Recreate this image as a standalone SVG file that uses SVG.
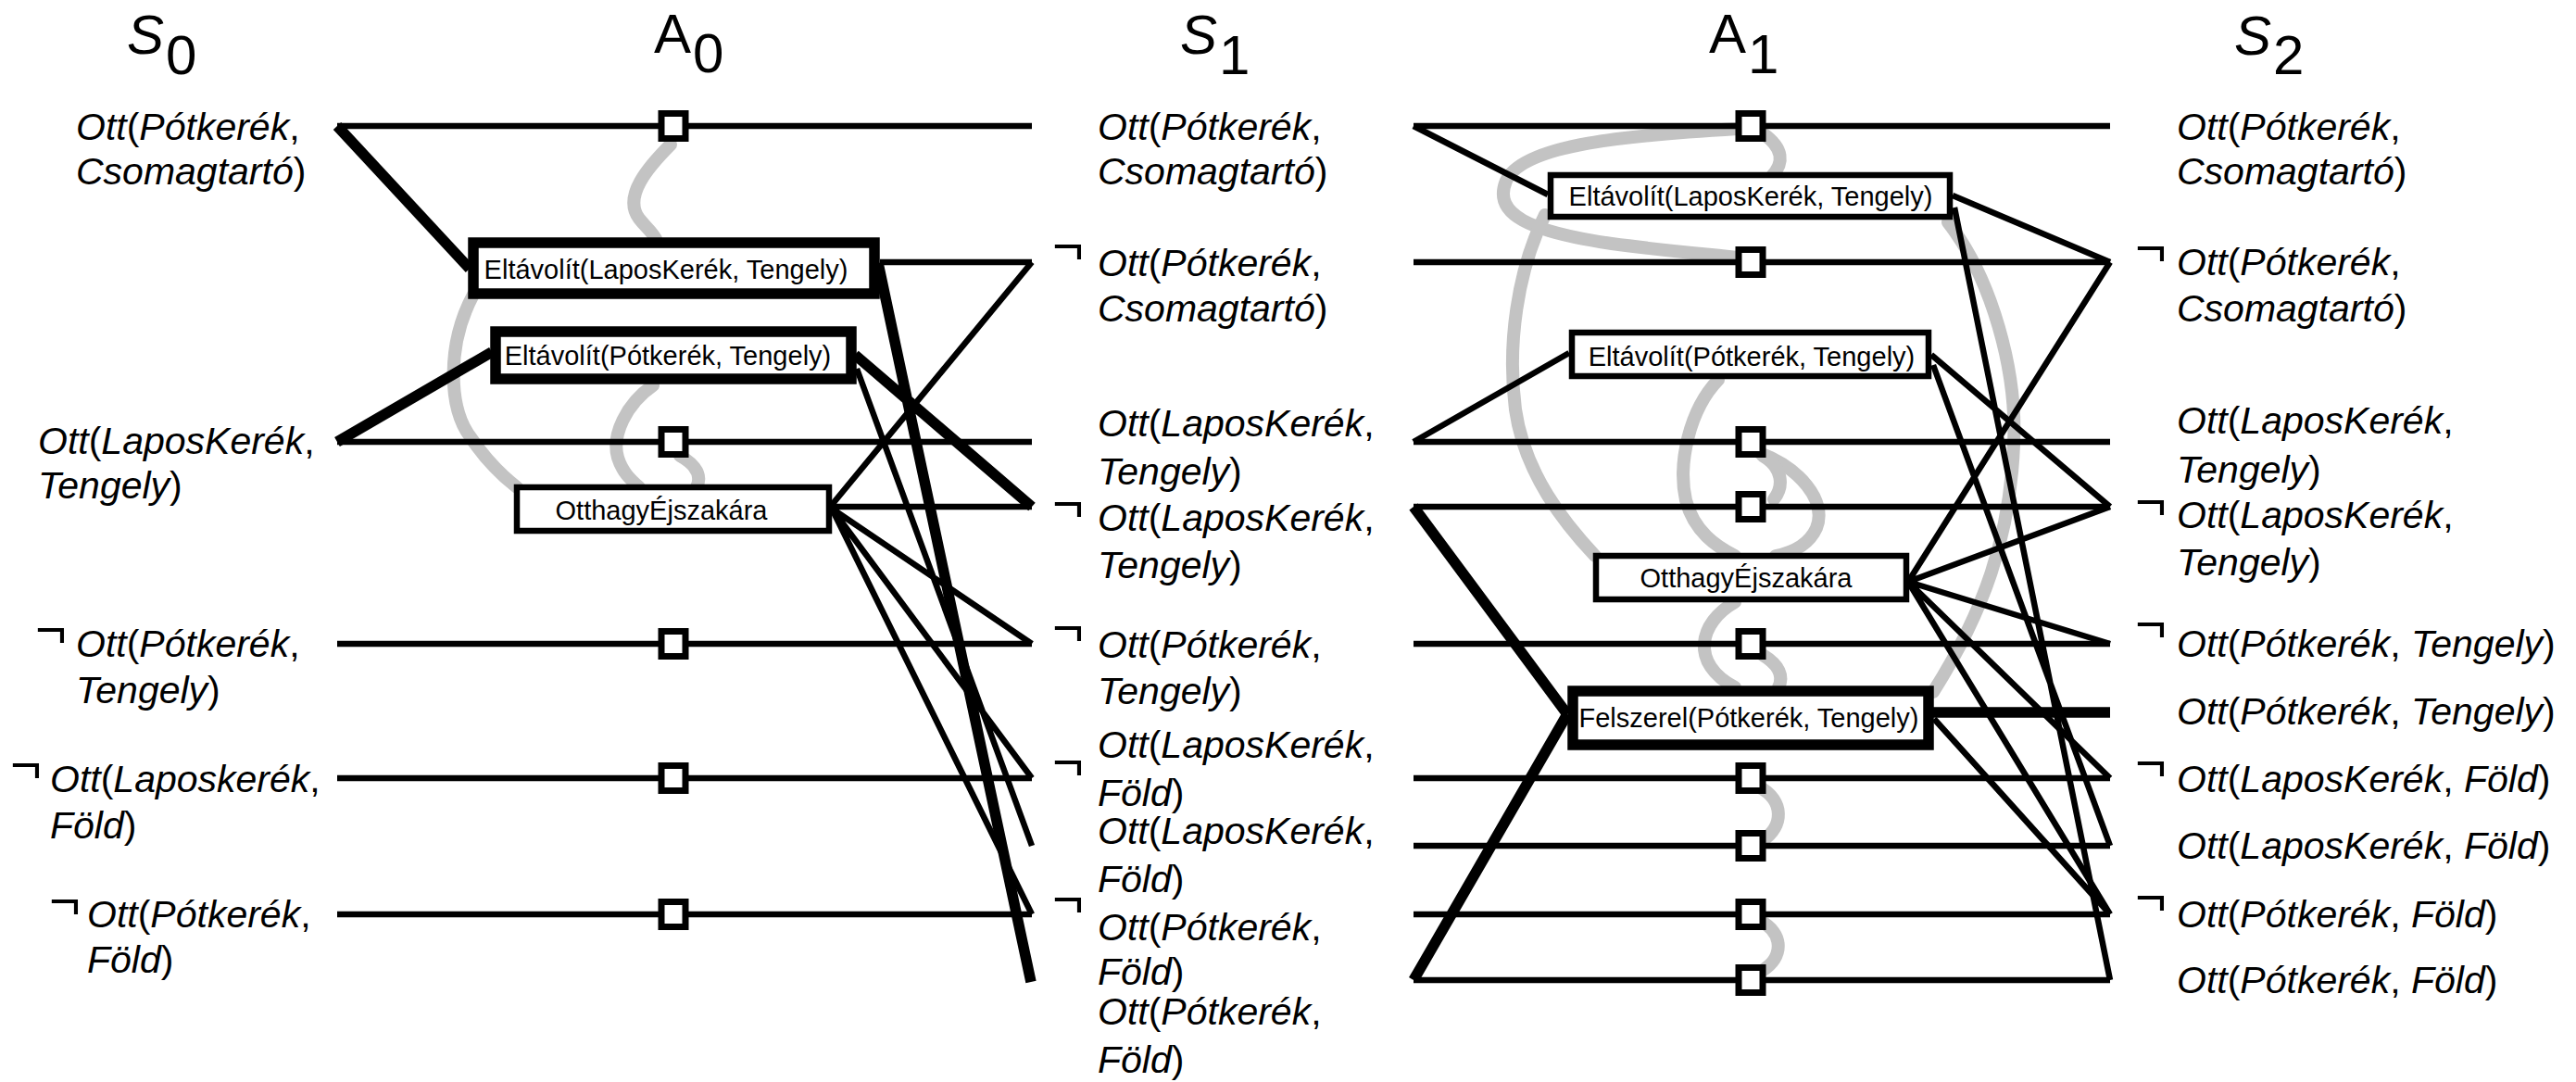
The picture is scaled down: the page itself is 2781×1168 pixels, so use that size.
<svg xmlns="http://www.w3.org/2000/svg" width="2781" height="1168" viewBox="0 0 2781 1168">
<style>
text{font-family:"Liberation Sans",Arial,Helvetica,sans-serif;fill:#000}
.t{font-size:60px}
.ti{font-size:60px;font-style:italic}
.up{font-style:normal}
.lab{font-size:41px}
.i{font-style:italic}
.neg{font-size:58px}
.act{font-size:29px;text-anchor:middle}
.ln{stroke:#000;stroke-width:6.5;fill:none}
.thk{stroke:#000;stroke-width:11.5;fill:none}
.mx{stroke:#c3c3c3;stroke-width:14;fill:none;stroke-linecap:round}
.box{fill:#fff;stroke:#000;stroke-width:6.5}
.boxk{fill:#fff;stroke:#000;stroke-width:11.5}
.sq{fill:#fff;stroke:#000;stroke-width:7}
</style>
<rect width="2781" height="1168" fill="#fff"/>
<g id="titles">
<text class="ti" x="137" y="58">S<tspan class="up" dx="2" dy="22">0</tspan></text>
<text class="t" x="706" y="57">A<tspan dx="2" dy="21">0</tspan></text>
<text class="ti" x="1274" y="58">S<tspan class="up" dx="2" dy="22">1</tspan></text>
<text class="t" x="1845" y="57">A<tspan dx="2" dy="22">1</tspan></text>
<text class="ti" x="2412" y="59">S<tspan class="up" dx="2" dy="21">2</tspan></text>
</g>
<g id="mutexes">
<path class="mx" d="M724,156 C700,180 672,212 690,236 C697,245 704,250 708,258"/>
<path class="mx" d="M511,318 C482,372 484,440 508,472 C525,497 545,516 558,526"/>
<path class="mx" d="M705,416 C676,436 660,470 667,494 C672,510 681,518 690,526"/>
<path class="mx" d="M734,492 C752,502 758,514 752,526"/>
<path class="mx" d="M1876,139 C1760,146 1645,155 1626,195 C1611,232 1652,250 1740,263 C1800,271 1850,275 1876,278"/>
<path class="mx" d="M1903,144 C1926,160 1926,176 1913,190"/>
<path class="mx" d="M1668,232 C1638,292 1627,372 1636,442 C1646,512 1690,566 1722,600"/>
<path class="mx" d="M1855,410 C1824,442 1811,500 1820,540 C1829,574 1853,590 1873,600"/>
<path class="mx" d="M1900,489 C1942,505 1973,540 1961,570 C1952,590 1932,597 1917,600"/>
<path class="mx" d="M1903,492 C1925,505 1926,525 1915,539"/>
<path class="mx" d="M1873,650 C1834,672 1824,716 1873,742"/>
<path class="mx" d="M1903,707 C1921,718 1926,730 1920,742"/>
<path class="mx" d="M1900,850 C1926,864 1926,892 1903,907"/>
<path class="mx" d="M1900,994 C1926,1007 1926,1034 1902,1048"/>
<path class="mx" d="M2103,240 C2150,300 2178,400 2174,480 C2170,580 2142,660 2087,747"/>
</g>
<g id="connectors">
<path class="ln" d="M364,136 H1114 M364,477 H1114 M364,695 H1114 M364,840 H1114 M364,987 H1114"/>
<path class="ln" d="M950,283 H1114 M898,547 H1114 M898,545 L1114,283 M898,549 L1114,695 M898,549 L1114,840 M898,549 L1114,987 M925,398 L1114,913"/>
<path class="thk" d="M364,136 L507,290 M364,477 L531,380 M948,284 L1113,1060 M923,383 L1114,547"/>
<path class="ln" d="M1526,136 H2278 M1526,283 H2278 M1526,477 H2278 M1526,547 H2278 M1526,695 H2278 M1526,840 H2278 M1526,913 H2278 M1526,987 H2278 M1526,1058 H2278"/>
<path class="ln" d="M1526,136 L1671,210 M2108,211 L2278,283 M2110,224 L2278,1058 M1526,477 L1694,381 M2085,383 L2278,547 M2087,394 L2278,913"/>
<path class="ln" d="M2060,628 L2278,283 M2060,628 L2278,547 M2060,628 L2278,695 M2060,628 L2278,840 M2060,628 L2278,987 M2088,776 L2278,987"/>
<path class="thk" d="M1526,547 L1692,771 M1526,1058 L1692,771 M2086,769 H2278"/>
</g>
<g id="noops">
<rect class="sq" x="714" y="122.5" width="26" height="27"/>
<rect class="sq" x="714" y="463.5" width="26" height="27"/>
<rect class="sq" x="714" y="681.5" width="26" height="27"/>
<rect class="sq" x="714" y="826.5" width="26" height="27"/>
<rect class="sq" x="714" y="973.5" width="26" height="27"/>
<rect class="sq" x="1877" y="122.5" width="26" height="27"/>
<rect class="sq" x="1877" y="269.5" width="26" height="27"/>
<rect class="sq" x="1877" y="463.5" width="26" height="27"/>
<rect class="sq" x="1877" y="533.5" width="26" height="27"/>
<rect class="sq" x="1877" y="681.5" width="26" height="27"/>
<rect class="sq" x="1877" y="826.5" width="26" height="27"/>
<rect class="sq" x="1877" y="899.5" width="26" height="27"/>
<rect class="sq" x="1877" y="973.5" width="26" height="27"/>
<rect class="sq" x="1877" y="1044.5" width="26" height="27"/>
</g>
<g id="a0-remove-flat"><rect class="boxk" x="511" y="262" width="433" height="55"/><text class="act" x="719" y="301">Eltávolít(LaposKerék, Tengely)</text></g>
<g id="a0-remove-spare"><rect class="boxk" x="535" y="358" width="384" height="51"/><text class="act" x="721" y="394">Eltávolít(Pótkerék, Tengely)</text></g>
<g id="a0-leave"><rect class="box" x="558" y="526" width="337" height="47"/><text class="act" x="714" y="561">OtthagyÉjszakára</text></g>
<g id="a1-remove-flat"><rect class="box" x="1674" y="189" width="431" height="45"/><text class="act" x="1890" y="222">Eltávolít(LaposKerék, Tengely)</text></g>
<g id="a1-remove-spare"><rect class="box" x="1697" y="359" width="385" height="47"/><text class="act" x="1891" y="395">Eltávolít(Pótkerék, Tengely)</text></g>
<g id="a1-leave"><rect class="box" x="1723" y="600" width="335" height="47"/><text class="act" x="1885" y="634">OtthagyÉjszakára</text></g>
<g id="a1-puton"><rect class="boxk" x="1698" y="746" width="384" height="58"/><text class="act" x="1888" y="785">Felszerel(Pótkerék, Tengely)</text></g>
<g id="s0-labels">
<g id="s0-1"><text class="lab" x="82" y="151"><tspan class="i">Ott</tspan>(<tspan class="i">Pótkerék</tspan>,</text><text class="lab" x="82" y="199"><tspan class="i">Csomagtartó</tspan>)</text></g>
<g id="s0-2"><text class="lab" x="41" y="490"><tspan class="i">Ott</tspan>(<tspan class="i">LaposKerék</tspan>,</text><text class="lab" x="41" y="538"><tspan class="i">Tengely</tspan>)</text></g>
<g id="s0-3"><text class="neg" x="38" y="699">¬</text><text class="lab" x="82" y="709"><tspan class="i">Ott</tspan>(<tspan class="i">Pótkerék</tspan>,</text><text class="lab" x="82" y="759"><tspan class="i">Tengely</tspan>)</text></g>
<g id="s0-4"><text class="neg" x="11" y="845">¬</text><text class="lab" x="54" y="855"><tspan class="i">Ott</tspan>(<tspan class="i">Laposkerék</tspan>,</text><text class="lab" x="54" y="905"><tspan class="i">Föld</tspan>)</text></g>
<g id="s0-5"><text class="neg" x="53" y="992">¬</text><text class="lab" x="94" y="1001"><tspan class="i">Ott</tspan>(<tspan class="i">Pótkerék</tspan>,</text><text class="lab" x="94" y="1050"><tspan class="i">Föld</tspan>)</text></g>
</g>
<g id="s1-labels">
<g id="s1-1"><text class="lab" x="1185" y="151"><tspan class="i">Ott</tspan>(<tspan class="i">Pótkerék</tspan>,</text><text class="lab" x="1185" y="199"><tspan class="i">Csomagtartó</tspan>)</text></g>
<g id="s1-2"><text class="neg" x="1136" y="285">¬</text><text class="lab" x="1185" y="298"><tspan class="i">Ott</tspan>(<tspan class="i">Pótkerék</tspan>,</text><text class="lab" x="1185" y="347"><tspan class="i">Csomagtartó</tspan>)</text></g>
<g id="s1-3"><text class="lab" x="1185" y="471"><tspan class="i">Ott</tspan>(<tspan class="i">LaposKerék</tspan>,</text><text class="lab" x="1185" y="523"><tspan class="i">Tengely</tspan>)</text></g>
<g id="s1-4"><text class="neg" x="1136" y="563">¬</text><text class="lab" x="1185" y="573"><tspan class="i">Ott</tspan>(<tspan class="i">LaposKerék</tspan>,</text><text class="lab" x="1185" y="624"><tspan class="i">Tengely</tspan>)</text></g>
<g id="s1-5"><text class="neg" x="1136" y="697">¬</text><text class="lab" x="1185" y="710"><tspan class="i">Ott</tspan>(<tspan class="i">Pótkerék</tspan>,</text><text class="lab" x="1185" y="760"><tspan class="i">Tengely</tspan>)</text></g>
<g id="s1-6"><text class="neg" x="1136" y="842">¬</text><text class="lab" x="1185" y="818"><tspan class="i">Ott</tspan>(<tspan class="i">LaposKerék</tspan>,</text><text class="lab" x="1185" y="870"><tspan class="i">Föld</tspan>)</text></g>
<g id="s1-7"><text class="lab" x="1185" y="911"><tspan class="i">Ott</tspan>(<tspan class="i">LaposKerék</tspan>,</text><text class="lab" x="1185" y="963"><tspan class="i">Föld</tspan>)</text></g>
<g id="s1-8"><text class="neg" x="1136" y="990">¬</text><text class="lab" x="1185" y="1015"><tspan class="i">Ott</tspan>(<tspan class="i">Pótkerék</tspan>,</text><text class="lab" x="1185" y="1063"><tspan class="i">Föld</tspan>)</text></g>
<g id="s1-9"><text class="lab" x="1185" y="1106"><tspan class="i">Ott</tspan>(<tspan class="i">Pótkerék</tspan>,</text><text class="lab" x="1185" y="1158"><tspan class="i">Föld</tspan>)</text></g>
</g>
<g id="s2-labels">
<g id="s2-1"><text class="lab" x="2350" y="151"><tspan class="i">Ott</tspan>(<tspan class="i">Pótkerék</tspan>,</text><text class="lab" x="2350" y="199"><tspan class="i">Csomagtartó</tspan>)</text></g>
<g id="s2-2"><text class="neg" x="2305" y="287">¬</text><text class="lab" x="2350" y="297"><tspan class="i">Ott</tspan>(<tspan class="i">Pótkerék</tspan>,</text><text class="lab" x="2350" y="347"><tspan class="i">Csomagtartó</tspan>)</text></g>
<g id="s2-3"><text class="lab" x="2350" y="468"><tspan class="i">Ott</tspan>(<tspan class="i">LaposKerék</tspan>,</text><text class="lab" x="2350" y="521"><tspan class="i">Tengely</tspan>)</text></g>
<g id="s2-4"><text class="neg" x="2305" y="561">¬</text><text class="lab" x="2350" y="570"><tspan class="i">Ott</tspan>(<tspan class="i">LaposKerék</tspan>,</text><text class="lab" x="2350" y="621"><tspan class="i">Tengely</tspan>)</text></g>
<g id="s2-5"><text class="neg" x="2305" y="693">¬</text><text class="lab" x="2350" y="709"><tspan class="i">Ott</tspan>(<tspan class="i">Pótkerék</tspan>, <tspan class="i">Tengely</tspan>)</text></g>
<g id="s2-6"><text class="lab" x="2350" y="782"><tspan class="i">Ott</tspan>(<tspan class="i">Pótkerék</tspan>, <tspan class="i">Tengely</tspan>)</text></g>
<g id="s2-7"><text class="neg" x="2305" y="843">¬</text><text class="lab" x="2350" y="855"><tspan class="i">Ott</tspan>(<tspan class="i">LaposKerék</tspan>, <tspan class="i">Föld</tspan>)</text></g>
<g id="s2-8"><text class="lab" x="2350" y="927"><tspan class="i">Ott</tspan>(<tspan class="i">LaposKerék</tspan>, <tspan class="i">Föld</tspan>)</text></g>
<g id="s2-9"><text class="neg" x="2305" y="988">¬</text><text class="lab" x="2350" y="1001"><tspan class="i">Ott</tspan>(<tspan class="i">Pótkerék</tspan>, <tspan class="i">Föld</tspan>)</text></g>
<g id="s2-10"><text class="lab" x="2350" y="1072"><tspan class="i">Ott</tspan>(<tspan class="i">Pótkerék</tspan>, <tspan class="i">Föld</tspan>)</text></g>
</g>
</svg>
